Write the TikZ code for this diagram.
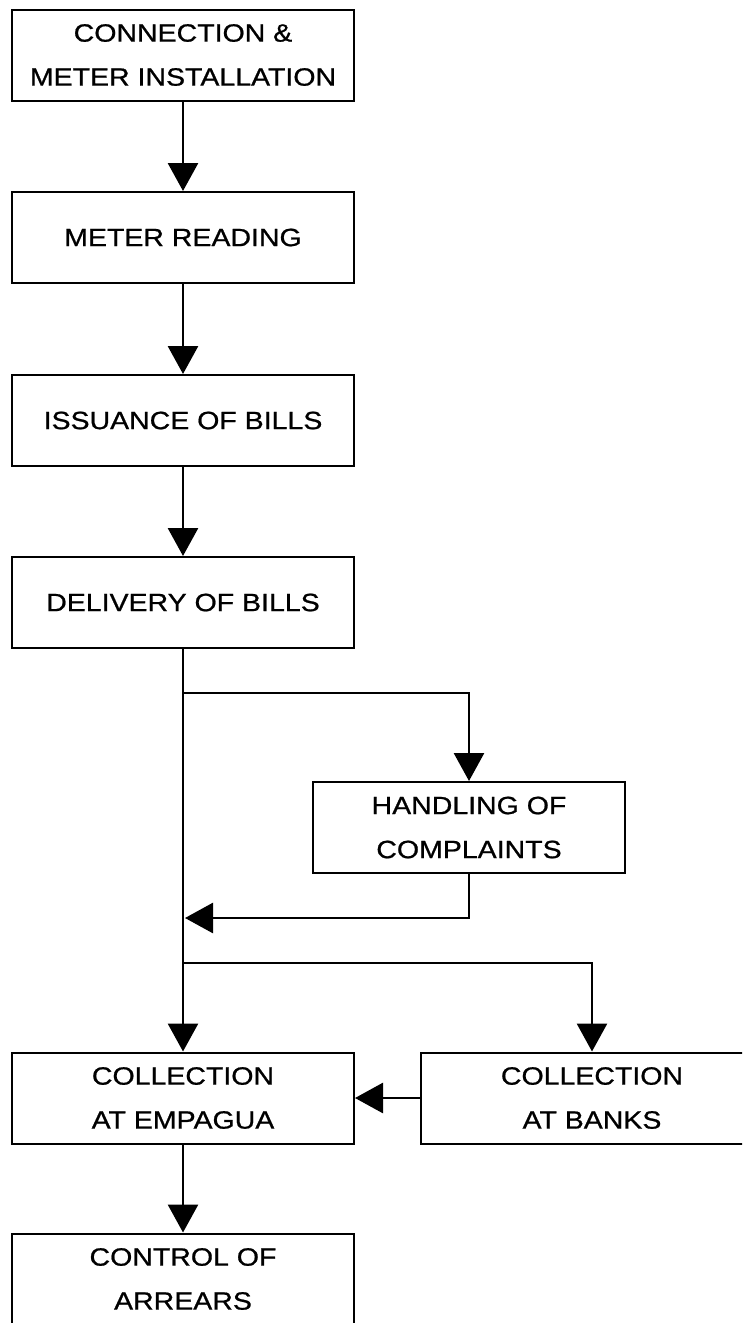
\documentclass[tikz,border=0pt]{standalone}
\usepackage{fontspec}
\setmainfont{Liberation Sans}
\newfontfamily\boxfont[FakeStretch=1.14,FakeBold=0.8]{Liberation Sans}
\usetikzlibrary{arrows.meta}
\begin{document}
\begin{tikzpicture}[x=1pt,y=-1pt,
  box/.style={draw, line width=2pt, minimum width=342pt, minimum height=91pt,
    align=center, inner sep=0pt, font=\boxfont\fontsize{25}{44}\selectfont},
  flow/.style={line width=2.8pt, -{Triangle[length=28pt,width=30pt]}}]
\useasboundingbox (0,0) rectangle (742,1323);
\clip (0,0) rectangle (742,1323);
\fill[white] (0,0) rectangle (742,1323);

\node[box] (n1) at (183,55) {CONNECTION \&\\METER INSTALLATION};
\node[box] (n2) at (183,237.5) {METER READING};
\node[box] (n3) at (183,420.5) {ISSUANCE OF BILLS};
\node[box] (n4) at (183,602.5) {DELIVERY OF BILLS};
\node[box, minimum width=312pt] (n5) at (469,827.5) {HANDLING OF\\COMPLAINTS};
\node[box] (n6) at (183,1098) {COLLECTION\\AT EMPAGUA};
\node[box] (n7) at (592,1098) {COLLECTION\\AT BANKS};
\node[box] (n8) at (183,1279) {CONTROL OF\\ARREARS};

\coordinate (b1) at (183,693);
\coordinate (b2) at (185,918);
\coordinate (b3) at (183,963);

\draw[flow] (n1) -- (n2);
\draw[flow] (n2) -- (n3);
\draw[flow] (n3) -- (n4);
\draw[flow] (n4) -- (n6);
\draw[flow] (b1) -| (n5.north);
\draw[flow] (n5.south) |- (b2);
\draw[flow] (b3) -| (n7.north);
\draw[flow] (n7.west) -- (n6.east);
\draw[flow] (n6) -- (n8);
\end{tikzpicture}
\end{document}
